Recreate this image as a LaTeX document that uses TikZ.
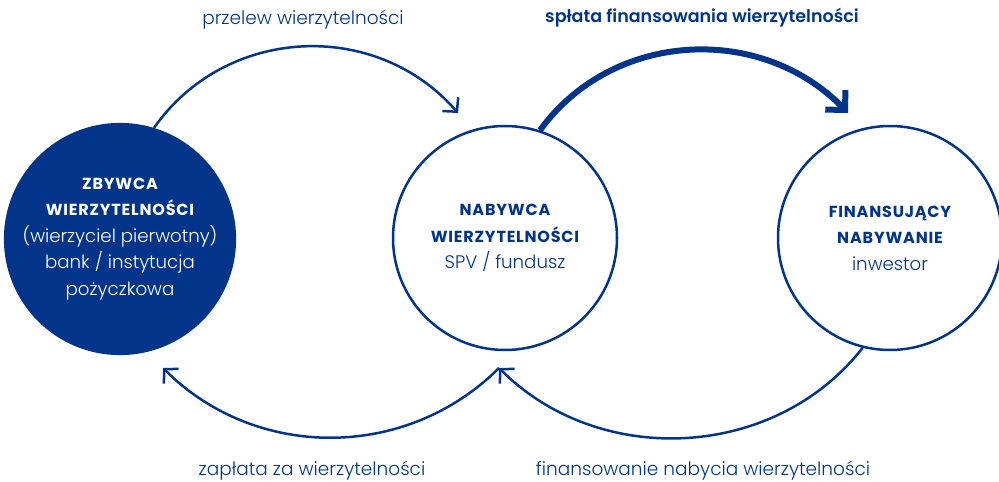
\documentclass[tikz,border=0pt]{standalone}
\usepackage{fontspec}
\setmainfont{Poppins Light}[BoldFont=Poppins SemiBold]
\newfontfamily\capsfont{Poppins}[LetterSpace=5]
\usetikzlibrary{arrows.meta}
\definecolor{navy}{HTML}{023589}
\begin{document}
\begin{tikzpicture}[x=1pt,y=1pt,
  party/.style={circle, minimum size=224pt, inner sep=0pt, line width=2.5pt, draw=navy, align=center, text=navy, font=\fontsize{18.2}{26.5}\selectfont},
  flow/.style={navy, line width=2.5pt, -{Straight Barb[length=10pt,width=21pt]}},
  bigflow/.style={navy, line width=6pt, -{Straight Barb[length=14pt,width=28pt]}},
  lbl/.style={text=navy, font=\fontsize{18.5}{20}\selectfont}]
\useasboundingbox (0,0) rectangle (999,482);
\node[party, fill=navy, text=white] (L) at (120,243) {{\capsfont\fontsize{16}{26}\selectfont\bfseries ZBYWCA}\\ {\capsfont\fontsize{16}{26}\selectfont\bfseries WIERZYTELNOŚCI}\\ (wierzyciel pierwotny)\\ bank / instytucja\\ pożyczkowa};
\node[party, fill=white] (M) at (505,244) {{\capsfont\fontsize{16}{26}\selectfont\bfseries NABYWCA}\\ {\capsfont\fontsize{16}{26}\selectfont\bfseries WIERZYTELNOŚCI}\\ SPV / fundusz};
\node[party, fill=white] (R) at (890,244) {{\capsfont\fontsize{16}{26}\selectfont\bfseries FINANSUJĄCY}\\ {\capsfont\fontsize{16}{26}\selectfont\bfseries NABYWANIE}\\ inwestor};
\coordinate (tipA) at (458,369);
\coordinate (tipB) at (848,369);
\coordinate (tipM) at (499,114);
\coordinate (tipL) at (163,114);
\draw[flow] (L.73) to[out=55,in=131,looseness=1.05] (tipA);
\draw[bigflow] (M.72) to[out=54,in=134,looseness=1.03] (tipB);
\draw[flow] (R.256) to[out=232,in=-45] (tipM);
\draw[flow] (tipM) to[out=225,in=-45] (tipL);
\node[lbl] (t1) at (303,462) {przelew wierzytelności};
\node[lbl, font=\fontsize{17.5}{20}\selectfont\bfseries] (t2) at (702,464) {spłata finansowania wierzytelności};
\node[lbl] (t3) at (312,11) {zapłata za wierzytelności};
\node[lbl] (t4) at (703,11) {finansowanie nabycia wierzytelności};
\end{tikzpicture}
\end{document}
